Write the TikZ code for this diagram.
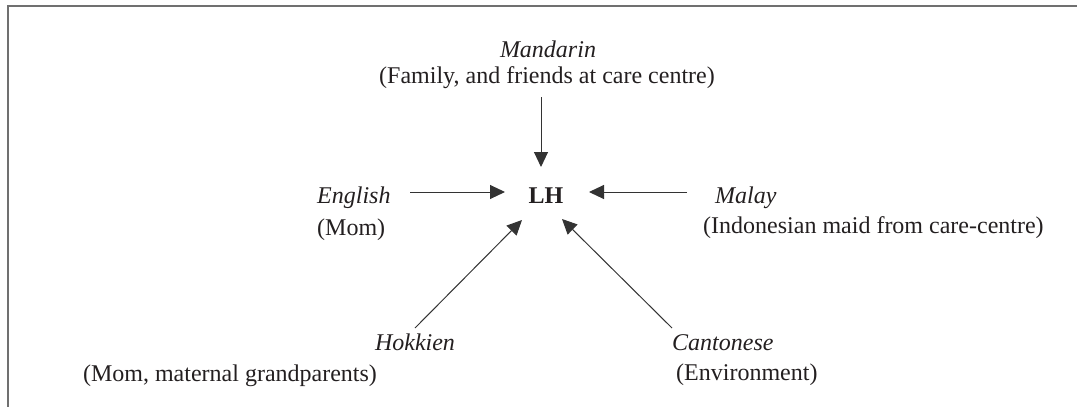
\documentclass[tikz,border=0pt]{standalone}
\usepackage{fontspec}
\setmainfont{Liberation Serif}
\usetikzlibrary{arrows.meta}
\definecolor{txt}{HTML}{231F20}
\definecolor{ln}{HTML}{333333}
\definecolor{frm}{HTML}{707070}
\begin{document}
\begin{tikzpicture}[x=1pt,y=-1pt,
  lbl/.style={inner sep=0pt,text=txt,font=\fontsize{24}{28}\selectfont},
  arr/.style={draw=ln,line width=1pt,-{Triangle[length=15pt,width=14pt]}}]
\useasboundingbox (0,0) rectangle (1077,407);
\draw[frm,line width=2pt] (8,407) -- (8,6) -- (1077,6);
% centre
\node[lbl,anchor=base,font=\fontsize{24}{28}\selectfont\bfseries] (lh) at (546,203) {LH};
% Mandarin
\node[lbl,anchor=base] (mand) at (548,57) {\itshape Mandarin};
\node[lbl,anchor=base] (mandsub) at (547,83) {(Family, and friends at care centre)};
% English
\node[lbl,anchor=base west] (eng) at (317,203) {\itshape English};
\node[lbl,anchor=base west] (engsub) at (317,235) {(Mom)};
% Malay
\node[lbl,anchor=base west] (mal) at (715,203) {\itshape Malay};
\node[lbl,anchor=base west] (malsub) at (703,233) {(Indonesian maid from care-centre)};
% Hokkien
\node[lbl,anchor=base] (hok) at (415,350) {\itshape Hokkien};
\node[lbl,anchor=base] (hoksub) at (230,381) {(Mom, maternal grandparents)};
% Cantonese
\node[lbl,anchor=base west] (can) at (672,350) {\itshape Cantonese};
\node[lbl,anchor=base west] (cansub) at (676,380) {(Environment)};
% arrow ends
\coordinate (mandT) at (541,97);  \coordinate (mandH) at (541,167);
\coordinate (engT) at (410,192);  \coordinate (engH) at (505,192);
\coordinate (malT) at (687,192);  \coordinate (malH) at (589,192);
\coordinate (hokT) at (415,328);  \coordinate (hokH) at (522,220);
\coordinate (canT) at (672,328);  \coordinate (canH) at (562,219);
\draw[arr] (mandT) -- (mandH);
\draw[arr] (engT) -- (engH);
\draw[arr] (malT) -- (malH);
\draw[arr] (hokT) -- (hokH);
\draw[arr] (canT) -- (canH);
\end{tikzpicture}
\end{document}
